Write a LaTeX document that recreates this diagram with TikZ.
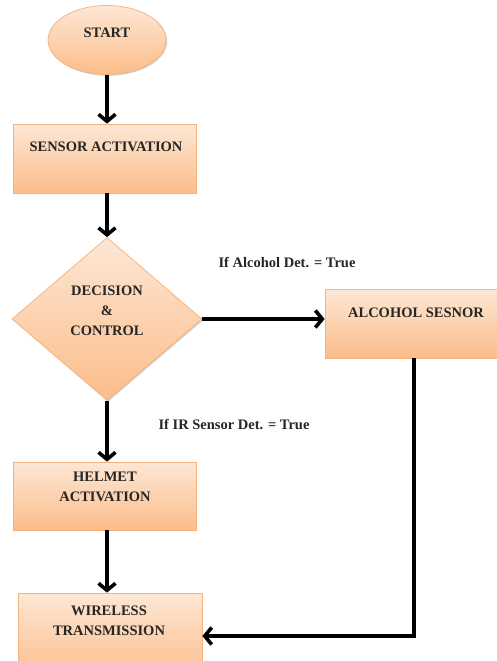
\documentclass[tikz,border=0pt]{standalone}
\usepackage{fontspec}
\setmainfont{Liberation Serif}
\usetikzlibrary{arrows.meta,shapes.geometric,shadows}
\definecolor{ptop}{HTML}{FDE7D5}
\definecolor{pbot}{HTML}{FBBD8A}
\definecolor{pline}{HTML}{F5B27C}
\begin{document}
\begin{tikzpicture}[x=1pt,y=-1pt,
  shapebox/.style={draw=pline, line width=0.7pt, top color=ptop, bottom color=pbot,
    inner sep=0pt, drop shadow={shadow xshift=1.2pt, shadow yshift=-1.2pt, opacity=0.18, fill=black}},
  txt/.style={font=\fontsize{14.5}{20}\selectfont\bfseries, align=center, inner sep=0pt, text=black!85},
  arr/.style={line width=3.6pt, -{Straight Barb[length=7pt,width=17pt]}},
  conn/.style={line width=3.6pt}]
\clip (0,0) rectangle (497,661);
\fill[white] (0,0) rectangle (497,661);
% shapes
\node[shapebox, ellipse, minimum width=118pt, minimum height=69pt] (start) at (107,40) {};
\node[shapebox, rectangle, minimum width=183pt, minimum height=69pt] (sa) at (104.5,158.5) {};
\node[shapebox, diamond, minimum width=190pt, minimum height=163pt] (dc) at (107,319) {};
\node[shapebox, rectangle, minimum width=185pt, minimum height=69pt] (al) at (417.5,323.5) {};
\node[shapebox, rectangle, minimum width=183pt, minimum height=68pt] (hm) at (104.5,496) {};
\node[shapebox, rectangle, minimum width=184pt, minimum height=87pt] (wt) at (110,636.5) {};
% texts
\node[txt] (startt) at (107,33) {START};
\node[txt] (sat) at (106,147) {SENSOR ACTIVATION};
\node[txt] (dct) at (107,311) {DECISION\\\&\\CONTROL};
\node[txt] (alt) at (416,313) {ALCOHOL SESNOR};
\node[txt] (hmt) at (105,487) {HELMET\\ACTIVATION};
\node[txt] (wtt) at (109,621) {WIRELESS\\TRANSMISSION};
\node[txt] (lab1) at (287,262) {If Alcohol Det. = True};
\node[txt] (lab2) at (234,424) {If IR Sensor Det. = True};
% connectors
\coordinate (turn) at (414,636);
\draw[arr] (start) -- (start |- sa.north);
\draw[arr] (start |- sa.south) -- (dc.north);
\draw[arr] (dc.east) -- (dc.east -| al.west);
\draw[arr] (dc.south) -- (dc.south |- hm.north);
\draw[arr] (dc.south |- hm.south) -- (dc.south |- wt.north);
\draw[conn, line join=miter] (al.south -| turn) -- (turn);
\draw[arr] ([xshift=1.8pt]turn) -- (turn -| wt.east);
\end{tikzpicture}
\end{document}
